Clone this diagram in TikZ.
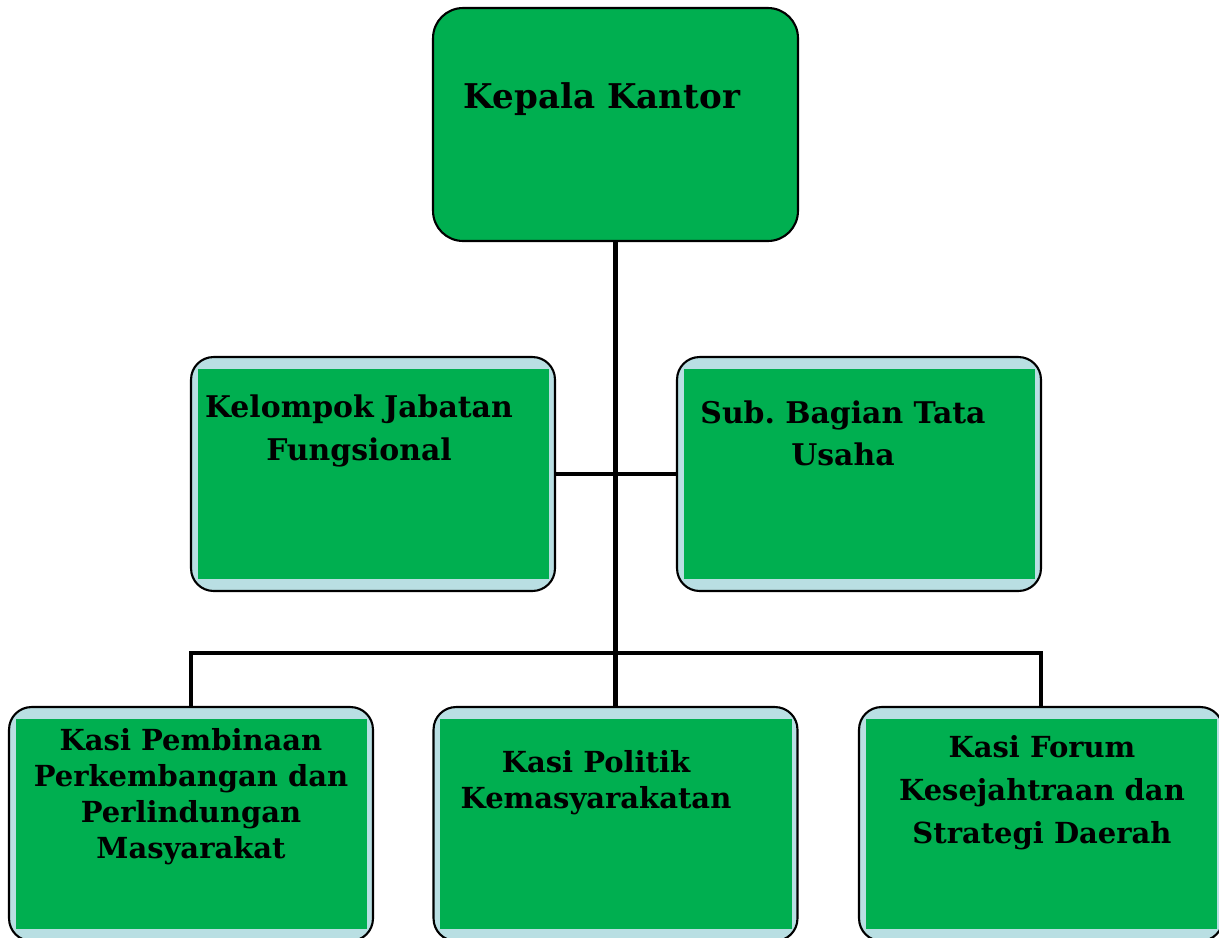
\documentclass[tikz,border=0pt]{standalone}
\usepackage{fontspec}
\setmainfont{DejaVu Serif}
\usetikzlibrary{positioning}

\definecolor{boxgreen}{HTML}{00AF50}
\definecolor{bandblue}{HTML}{B9DFE3}

\tikzset{
    unit/.style={draw, line width=1.2pt, rounded corners=0.45cm, fill=bandblue,
        minimum width=7.28cm, minimum height=4.68cm, inner sep=0pt},
    head/.style={unit, fill=boxgreen, minimum width=7.3cm, minimum height=4.66cm, rounded corners=0.6cm},
    label/.style={font=\bfseries, align=center, inner sep=0pt},
    link/.style={line width=2.8pt}
}

\newcommand{\greenpanel}[1]{%
    \fill[boxgreen] ([xshift=0.16cm,yshift=-0.26cm]#1.north west) rectangle ([xshift=-0.14cm,yshift=0.26cm]#1.south east);}

\begin{document}
\begin{tikzpicture}[x=0.02cm, y=-0.02cm]
\useasboundingbox (0,0) rectangle (1219,937);

% Head of office
\node[head] (kepala) at (615.5,124.5) {};
\node[label, font=\fontsize{19.4}{23}\selectfont\bfseries] (kepalatxt) at (602,99) {Kepala Kantor};

% Second row
\node[unit] (fungsional) at (373,474) {};
\greenpanel{fungsional}
\node[unit] (tatausaha) at (859,474) {};
\greenpanel{tatausaha}
\node[label, font=\fontsize{17}{24}\selectfont\bfseries] (fungsionaltxt) at (359,431) {Kelompok Jabatan\\Fungsional};
\node[label, font=\fontsize{17}{24}\selectfont\bfseries] (tatausahatxt) at (843,433) {Sub.\ Bagian Tata\\Usaha};

% Sections
\node[unit] (pembinaan) at (191,824) {};
\greenpanel{pembinaan}
\node[unit] (politik) at (615.5,824) {};
\greenpanel{politik}
\node[unit] (forum) at (1041,824) {};
\greenpanel{forum}
\node[label, font=\fontsize{16.5}{20.5}\selectfont\bfseries] (pembinaantxt) at (191,797) {Kasi Pembinaan\\Perkembangan dan\\Perlindungan\\Masyarakat};
\node[label, font=\fontsize{16.5}{20.5}\selectfont\bfseries] (politiktxt) at (596,783) {Kasi Politik\\Kemasyarakatan};
\node[label, font=\fontsize{16.5}{24.5}\selectfont\bfseries] (forumtxt) at (1042,793) {Kasi Forum\\Kesejahtraan dan\\Strategi Daerah};

% Connectors
\coordinate (bus) at (616,653);
\draw[link] (kepala.south) -- (politik.north);
\draw[link] (fungsional.east) -- (tatausaha.west);
\draw[link] (pembinaan.north) |- (bus) -| (forum.north);
\end{tikzpicture}
\end{document}
